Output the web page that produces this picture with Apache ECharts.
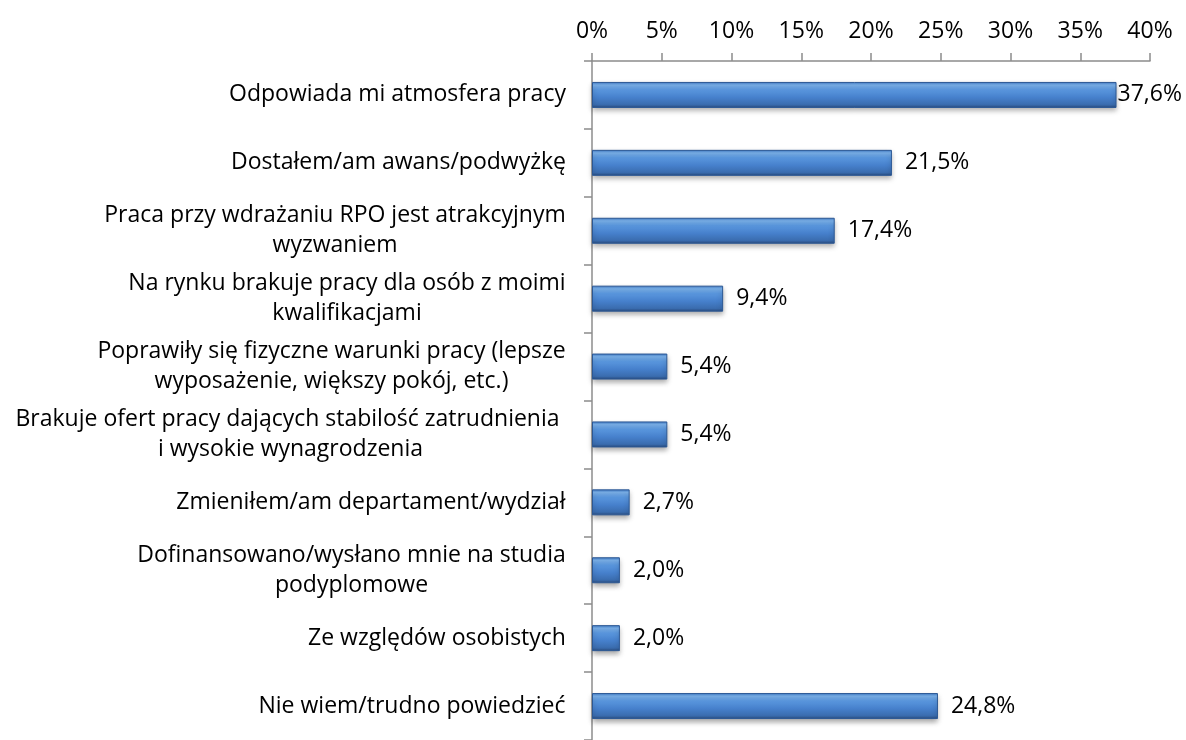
<!DOCTYPE html>
<html>
<head>
<meta charset="utf-8">
<script src="https://cdn.jsdelivr.net/npm/echarts@6/dist/echarts.min.js"></script>
<style>
  html, body { margin: 0; padding: 0; background: #fff; }
  #main { width: 1186px; height: 740px; }
</style>
</head>
<body>
<div id="main"></div>
<script type="text/javascript">
// dane z wykresu
var categories = [
  'Odpowiada mi atmosfera pracy',
  'Dostałem/am awans/podwyżkę',
  'Praca przy wdrażaniu RPO jest atrakcyjnym\nwyzwaniem',
  'Na rynku brakuje pracy dla osób z moimi\nkwalifikacjami',
  'Poprawiły się fizyczne warunki pracy (lepsze\nwyposażenie, większy pokój, etc.)',
  'Brakuje ofert pracy dających stabilość zatrudnienia \ni wysokie wynagrodzenia',
  'Zmieniłem/am departament/wydział',
  'Dofinansowano/wysłano mnie na studia\npodyplomowe',
  'Ze względów osobistych',
  'Nie wiem/trudno powiedzieć'
];
var values = [37.6, 21.5, 17.4, 9.4, 5.4, 5.4, 2.7, 2.0, 2.0, 24.8];
var xTicks = [0, 5, 10, 15, 20, 25, 30, 35, 40];

var FONT = '"Open Sans"';
var FSIZE = 23;

// szerokosc najdluzszej linii etykiety, zeby srodkowac wiersze
var ctx = document.createElement('canvas').getContext('2d');
ctx.font = FSIZE + 'px ' + FONT;
var rich = {};
categories.forEach(function (c, i) {
  var w = 0;
  c.split('\n').forEach(function (l) { w = Math.max(w, ctx.measureText(l).width); });
  rich['c' + i] = { width: Math.ceil(w), align: 'center', fontSize: FSIZE, fontFamily: FONT, color: '#000', lineHeight: 30 };
});

var myChart = echarts.init(document.getElementById('main'));

var barColor = new echarts.graphic.LinearGradient(0, 0, 0, 1, [
  { offset: 0, color: '#3d79c6' },
  { offset: 0.12, color: '#7db4ee' },
  { offset: 0.3, color: '#5a97de' },
  { offset: 0.6, color: '#4680cc' },
  { offset: 0.88, color: '#3a6cae' },
  { offset: 1, color: '#28497a' }
]);

var option = {
  backgroundColor: '#fff',
  animation: false,
  grid: { left: 592, right: 36, top: 61, height: 686 },
  xAxis: {
    type: 'value',
    position: 'top',
    min: xTicks[0],
    max: xTicks[xTicks.length - 1],
    interval: 5,
    axisLine: { show: true, lineStyle: { color: '#8c8c8c', width: 1.5 } },
    axisTick: { show: true, length: 8, lineStyle: { color: '#8c8c8c', width: 1.5 } },
    splitLine: { show: false },
    axisLabel: { formatter: '{value}%', fontSize: FSIZE, fontFamily: FONT, color: '#000', margin: 18 }
  },
  yAxis: {
    type: 'category',
    inverse: true,
    data: categories,
    axisLine: { show: true, lineStyle: { color: '#8c8c8c', width: 1.5 } },
    axisTick: { show: true, length: 8, lineStyle: { color: '#8c8c8c', width: 1.5 } },
    axisLabel: {
      margin: 26,
      formatter: function (value, idx) {
        return value.split('\n').map(function (l) { return '{c' + idx + '|' + l + '}'; }).join('\n');
      },
      rich: rich
    }
  },
  series: [{
    type: 'bar',
    data: values.map(function (v, i) {
      return i === 0 ? { value: v, label: { distance: 1 } } : v;
    }),
    barWidth: 26,
    itemStyle: {
      color: barColor,
      borderColor: '#2c5894',
      borderWidth: 1,
      shadowColor: 'rgba(0,0,0,0.35)',
      shadowBlur: 5,
      shadowOffsetY: 3
    },
    label: {
      show: true,
      position: 'right',
      distance: 13,
      fontSize: FSIZE,
      fontFamily: FONT,
      color: '#000',
      formatter: function (p) { return p.value.toFixed(1).replace('.', ',') + '%'; }
    }
  }]
};

myChart.setOption(option);
</script>
</body>
</html>
